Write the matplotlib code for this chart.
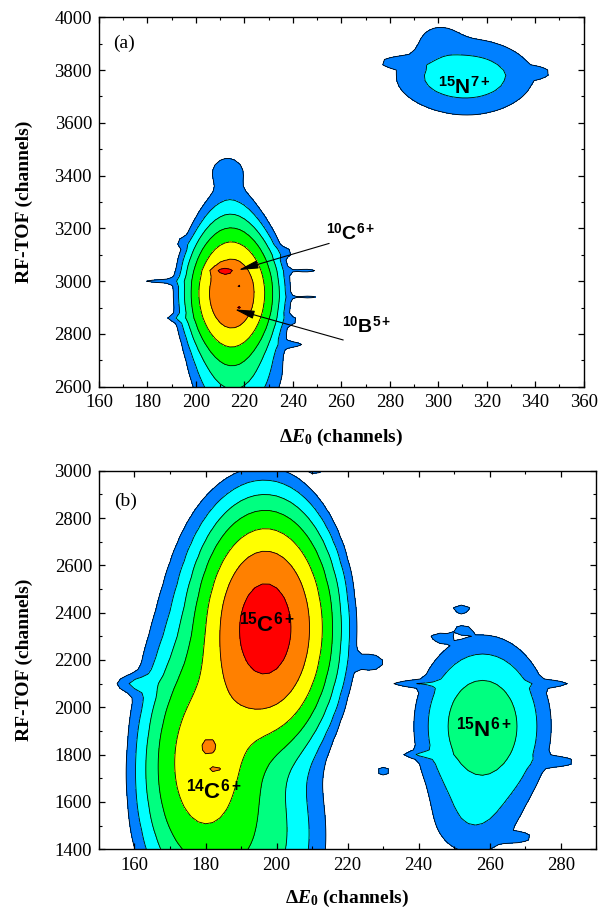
import numpy as np
import matplotlib
matplotlib.use("Agg")
import matplotlib.pyplot as plt
from matplotlib.ticker import MultipleLocator

# ---------------- data ----------------
# contour levels (counts) and band colours
levels = [1, 2, 4, 8, 16, 32, 64, 10000]
band_colors = ['#0080FF', '#00FFFF', '#00FF80', '#00FF00', '#FFFF00', '#FF8000', '#FF0000']

# panel (a): peak components (x0, y0, sx, sy, tilt, amplitude)
a_x0   = [215, 214, 218, 213, 211.5, 218, 218, 310, 313, 300, 340, 283,
          184, 246, 247, 242, 244, 192, 238, 241, 193]
a_y0   = [2955, 2950, 2650, 3420, 3038, 2990, 2895, 3775, 3770, 3925, 3790, 3830,
          3000, 3040, 2937, 2850, 2650, 2860, 3110, 2760, 3150]
a_sx   = [8.5, 8, 12, 5, 3, 1.8, 1.5, 19, 20, 6, 5, 7,
          7, 5, 5, 4, 3, 4, 4, 4, 3]
a_sy   = [110, 190, 120, 40, 11, 8, 8, 80, 160, 40, 12, 12,
          10, 10, 8, 10, 10, 10, 10, 10, 10]
a_tilt = [0] * 21
a_amp  = [48, 10, 2.5, 1.4, 40, 26, 22, 2.0, 0.9, 0.8, 1.0, 0.9,
          1.2, 1.2, 1.2, 1.0, 1.2, 1.0, 1.0, 1.0, 0.8]

# panel (b)
b_x0   = [197, 179.5, 191, 180, 181, 183, 258, 255, 252, 252, 246, 230, 268, 211, 238, 278, 280, 241, 160, 227]
b_y0   = [2335, 1800, 1450, 1900, 1835, 1735, 1920, 1500, 2415, 2330, 2295, 1730, 1450, 3000, 2100, 2100, 1770, 1800, 2100, 2190]
b_sx   = [8.5, 8, 12, 11, 2.5, 1.2, 10, 9, 2, 2, 2, 2, 3, 2, 5, 4, 4, 4, 4, 3]
b_sy   = [225, 235, 250, 500, 35, 12, 200, 120, 15, 8, 12, 15, 12, 12, 10, 10, 15, 10, 25, 30]
b_tilt = [0, 0.004, 0, 0, 0, 0, 0, 0, 0, 0, 0, 0, 0, 0, 0, 0, 0, 0, 0, 0]
b_amp  = [90, 22, 6, 3, 8, 14, 6.4, 1.3, 1.5, 1.3, 1.4, 1.5, 1.4, 1.2, 1.3, 1.2, 1.3, 1.2, 1.5, 1.5]

# ---------------- style ----------------
plt.rcParams['font.family'] = ['Liberation Serif', 'DejaVu Serif']
plt.rcParams['mathtext.fontset'] = 'custom'
plt.rcParams['mathtext.rm'] = 'Liberation Sans:bold'
plt.rcParams['mathtext.it'] = 'Liberation Serif:italic:bold'
plt.rcParams['mathtext.bf'] = 'Liberation Serif:bold'


def field(X, Y, x0, y0, sx, sy, tilt, amp):
    Z = np.zeros_like(X)
    for i in range(len(x0)):
        u = (X - x0[i] - tilt[i] * (Y - y0[i])) / sx[i]
        v = (Y - y0[i]) / sy[i]
        Z += amp[i] * np.exp(-0.5 * (u ** 2 + v ** 2))
    return Z


def style_axes(ax, xlim, ylim, ylab_x, xlab_y):
    ax.set_xlim(*xlim)
    ax.set_ylim(*ylim)
    ax.xaxis.set_major_locator(MultipleLocator(20))
    ax.xaxis.set_minor_locator(MultipleLocator(10))
    ax.yaxis.set_major_locator(MultipleLocator(200))
    ax.yaxis.set_minor_locator(MultipleLocator(100))
    ax.tick_params(which='both', direction='in', top=True, right=True, labelsize=13.5)
    ax.tick_params(which='major', length=4.5, width=0.9)
    ax.tick_params(which='minor', length=2.2, width=0.8)
    ax.tick_params(axis='x', which='major', pad=5.5)
    ax.tick_params(axis='y', which='major', pad=5.0)
    for s in ax.spines.values():
        s.set_linewidth(1.0)
    ax.set_ylabel('RF-TOF (channels)', fontsize=14, fontweight='bold')
    ax.set_xlabel(r'Δ$\mathit{E}_{\mathbf{0}}$ (channels)', fontsize=14, fontweight='bold')
    ax.yaxis.set_label_coords(ylab_x, 0.5)
    ax.xaxis.set_label_coords(0.5, xlab_y)


fig = plt.figure(figsize=(6.08, 9.09), dpi=100)
ax_a = fig.add_axes([0.1627, 0.5746, 0.7972, 0.4064])
ax_b = fig.add_axes([0.1628, 0.0657, 0.8178, 0.4165])

# panel (a)
xa = np.arange(150, 372, 2.0)
ya = np.arange(2500, 4120, 20.0)
XA, YA = np.meshgrid(xa, ya)
ZA = field(XA, YA, a_x0, a_y0, a_sx, a_sy, a_tilt, a_amp)
ax_a.contourf(XA, YA, ZA, levels=levels, colors=band_colors)
ax_a.contour(XA, YA, ZA, levels=levels[:-1], colors='k', linewidths=0.6)
style_axes(ax_a, (160, 360), (2600, 4000), -0.136, -0.109)

# panel (b)
xb = np.arange(140, 302, 2.0)
yb = np.arange(1300, 3120, 20.0)
XB, YB = np.meshgrid(xb, yb)
ZB = field(XB, YB, b_x0, b_y0, b_sx, b_sy, b_tilt, b_amp)
ax_b.contourf(XB, YB, ZB, levels=levels, colors=band_colors)
ax_b.contour(XB, YB, ZB, levels=levels[:-1], colors='k', linewidths=0.6)
style_axes(ax_b, (150, 290), (1400, 3000), -0.1327, -0.103)

# annotations
lab = dict(family=['Liberation Sans', 'DejaVu Sans'], fontweight='bold', ha='left', va='center')
ax_a.text(166, 3900, '(a)', fontsize=14, va='center')
ax_b.text(154.3, 2872, '(b)', fontsize=14, va='center')

ax_a.text(253.5, 3180, r'$^{10}$C$^{6+}$', fontsize=14, **lab)
ax_a.text(260.5, 2828, r'$^{10}$B$^{5+}$', fontsize=14, **lab)
ax_a.text(300, 3735, r'$^{15}$N$^{7+}$', fontsize=15, **lab)
ax_b.text(189.5, 2350, r'$^{15}$C$^{6+}$', fontsize=16, **lab)
ax_b.text(174.5, 1645, r'$^{14}$C$^{6+}$', fontsize=16, **lab)
ax_b.text(250.5, 1908, r'$^{15}$N$^{6+}$', fontsize=16, **lab)

arrow = dict(arrowstyle='-|>,head_length=1.2,head_width=0.25', lw=0.8, color='k',
             mutation_scale=10, shrinkA=0, shrinkB=0)
ax_a.annotate('', xy=(217.6, 3042), xytext=(255, 3143), arrowprops=arrow)
ax_a.annotate('', xy=(216, 2893), xytext=(260.8, 2777), arrowprops=arrow)

fig.savefig('out.png', dpi=100)
